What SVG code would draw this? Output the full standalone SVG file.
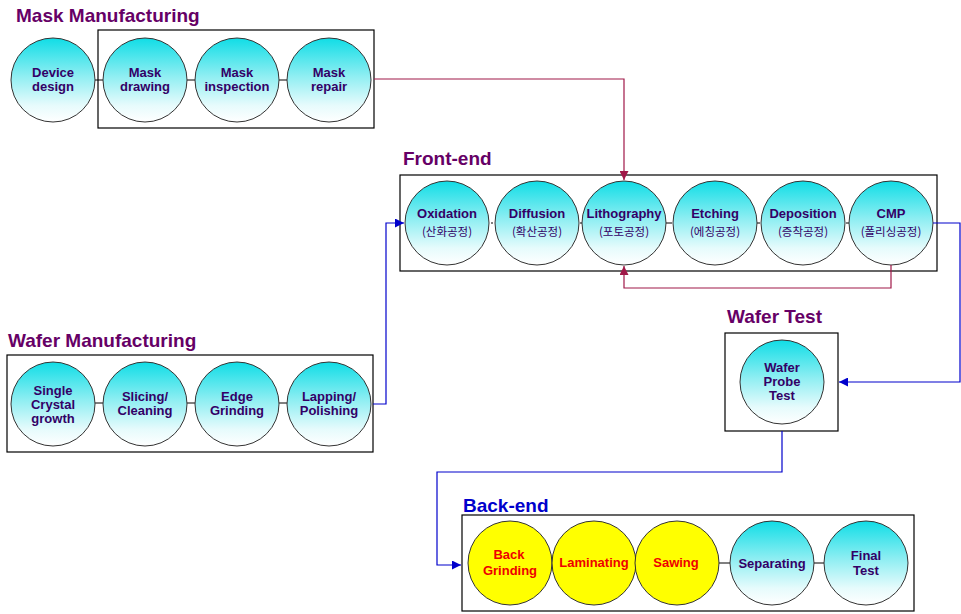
<svg xmlns="http://www.w3.org/2000/svg" width="961" height="614" viewBox="0 0 961 614">
<defs>
<linearGradient id="cy" x1="0" y1="0" x2="0" y2="1">
<stop offset="0" stop-color="#10dde6"/>
<stop offset="0.45" stop-color="#8eeef2"/>
<stop offset="0.8" stop-color="#e6fbfc"/>
<stop offset="1" stop-color="#ffffff"/>
</linearGradient>
<marker id="ar" viewBox="0 0 10 10" refX="10" refY="5" markerWidth="9" markerHeight="9" markerUnits="userSpaceOnUse" orient="auto"><path d="M0,0 L10,5 L0,10 z" fill="#a01848"/></marker>
<marker id="ab" viewBox="0 0 10 10" refX="10" refY="5" markerWidth="9" markerHeight="9" markerUnits="userSpaceOnUse" orient="auto"><path d="M0,0 L10,5 L0,10 z" fill="#0000cc"/></marker>
<style>
.box{fill:#fff;stroke:#000;stroke-width:1.2}
.c{fill:url(#cy);stroke:#333;stroke-width:1}
.y{fill:#ffff00;stroke:#333;stroke-width:1}
.l{stroke:#000;stroke-width:1;fill:none}
.t{font-family:"Liberation Sans","Noto Sans CJK KR",sans-serif;font-size:13px;font-weight:bold;fill:#330066;text-anchor:middle}
.k{font-family:"Noto Sans CJK KR","Liberation Sans",sans-serif;font-size:11.5px;fill:#330066;text-anchor:middle}
.r{fill:#ee0000}
.h{font-family:"Liberation Sans",sans-serif;font-size:19px;font-weight:bold;fill:#660066}
.red{stroke:#a01848;stroke-width:1.2;fill:none}
.blue{stroke:#0000cc;stroke-width:1.2;fill:none}
</style>
</defs>
<rect width="961" height="614" fill="#fff"/>

<!-- Mask Manufacturing -->
<g id="mask">
<text class="h" x="16" y="22">Mask Manufacturing</text>
<rect class="box" x="98" y="30" width="276" height="98"/>
<line class="l" x1="95" y1="80" x2="103" y2="80"/>
<line class="l" x1="187" y1="80" x2="195" y2="80"/>
<line class="l" x1="279" y1="80" x2="287" y2="80"/>
</g>
<g id="device-design"><circle class="c" cx="53" cy="80" r="42"/><text class="t" x="53" y="77">Device</text><text class="t" x="53" y="91">design</text></g>
<g id="mask-drawing"><circle class="c" cx="145" cy="80" r="42"/><text class="t" x="145" y="77">Mask</text><text class="t" x="145" y="91">drawing</text></g>
<g id="mask-inspection"><circle class="c" cx="237" cy="80" r="42"/><text class="t" x="237" y="77">Mask</text><text class="t" x="237" y="91">inspection</text></g>
<g id="mask-repair"><circle class="c" cx="329" cy="80" r="42"/><text class="t" x="329" y="77">Mask</text><text class="t" x="329" y="91">repair</text></g>

<!-- Front-end -->
<g id="front-end">
<text class="h" x="403" y="165">Front-end</text>
<rect class="box" x="400" y="175" width="537" height="96"/>
<line class="l" x1="491" y1="223" x2="493" y2="223"/>
<line class="l" x1="580" y1="223" x2="582" y2="223"/>
<line class="l" x1="666" y1="223" x2="672" y2="223"/>
<line class="l" x1="757" y1="223" x2="760" y2="223"/>
<line class="l" x1="846" y1="223" x2="849" y2="223"/>
</g>
<g id="oxidation"><circle class="c" cx="447" cy="223" r="42"/><text class="t" x="447" y="218">Oxidation</text><text class="k" x="447" y="236">(산화공정)</text></g>
<g id="diffusion"><circle class="c" cx="537" cy="223" r="42"/><text class="t" x="537" y="218">Diffusion</text><text class="k" x="537" y="236">(확산공정)</text></g>
<g id="lithography"><circle class="c" cx="624" cy="223" r="42"/><text class="t" x="624" y="218">Lithography</text><text class="k" x="624" y="236">(포토공정)</text></g>
<g id="etching"><circle class="c" cx="715" cy="223" r="42"/><text class="t" x="715" y="218">Etching</text><text class="k" x="715" y="236">(에칭공정)</text></g>
<g id="deposition"><circle class="c" cx="803" cy="223" r="42"/><text class="t" x="803" y="218">Deposition</text><text class="k" x="803" y="236">(증착공정)</text></g>
<g id="cmp"><circle class="c" cx="891" cy="223" r="42"/><text class="t" x="891" y="218">CMP</text><text class="k" x="891" y="236">(폴리싱공정)</text></g>

<!-- Wafer Manufacturing -->
<g id="wafer-mfg">
<text class="h" x="8" y="347">Wafer Manufacturing</text>
<rect class="box" x="7" y="355" width="366" height="97"/>
<line class="l" x1="95" y1="403" x2="103" y2="403"/>
<line class="l" x1="187" y1="403" x2="195" y2="403"/>
<line class="l" x1="279" y1="403" x2="287" y2="403"/>
</g>
<g id="single-crystal"><circle class="c" cx="53" cy="404" r="42"/><text class="t" x="53" y="395">Single</text><text class="t" x="53" y="409">Crystal</text><text class="t" x="53" y="423">growth</text></g>
<g id="slicing"><circle class="c" cx="145" cy="404" r="42"/><text class="t" x="145" y="401">Slicing/</text><text class="t" x="145" y="415">Cleaning</text></g>
<g id="edge-grinding"><circle class="c" cx="237" cy="404" r="42"/><text class="t" x="237" y="401">Edge</text><text class="t" x="237" y="415">Grinding</text></g>
<g id="lapping"><circle class="c" cx="329" cy="404" r="42"/><text class="t" x="329" y="401">Lapping/</text><text class="t" x="329" y="415">Polishing</text></g>

<!-- Wafer Test -->
<g id="wafer-test">
<text class="h" x="727" y="323">Wafer Test</text>
<rect class="box" x="725" y="333" width="113" height="98"/>
</g>
<g id="wafer-probe"><circle class="c" cx="782" cy="382" r="42"/><text class="t" x="782" y="372">Wafer</text><text class="t" x="782" y="386">Probe</text><text class="t" x="782" y="400">Test</text></g>

<!-- Back-end -->
<g id="back-end">
<text class="h" x="463" y="512" style="fill:#0000cc">Back-end</text>
<rect class="box" x="462" y="515" width="452" height="96"/>
<line class="l" x1="719" y1="563" x2="730" y2="563"/>
<line class="l" x1="814" y1="563" x2="824" y2="563"/>
</g>
<g id="back-grinding"><circle class="y" cx="510" cy="563" r="42"/><text class="t r" x="509" y="559">Back</text><text class="t r" x="510" y="575">Grinding</text></g>
<g id="laminating"><circle class="y" cx="594" cy="563" r="42"/><text class="t r" x="594" y="567">Laminating</text></g>
<g id="sawing"><circle class="y" cx="677" cy="563" r="42"/><text class="t r" x="676" y="567">Sawing</text></g>
<g id="separating"><circle class="c" cx="772" cy="563" r="42"/><text class="t" x="772" y="568">Separating</text></g>
<g id="final-test"><circle class="c" cx="866" cy="563" r="42"/><text class="t" x="866" y="560">Final</text><text class="t" x="866" y="575">Test</text></g>

<!-- Connectors -->
<g id="connectors">
<polyline class="red" points="374,79 624,79 624,180" marker-end="url(#ar)"/>
<polyline class="red" points="891,265 891,288 624,288 624,266" marker-end="url(#ar)"/>
<polyline class="blue" points="373,404 386,404 386,223 404,223" marker-end="url(#ab)"/>
<polyline class="blue" points="933,223 960,223 960,382 839,382" marker-end="url(#ab)"/>
<polyline class="blue" points="782,431 782,472 437,472 437,565 461,565" marker-end="url(#ab)"/>
</g>
</svg>
